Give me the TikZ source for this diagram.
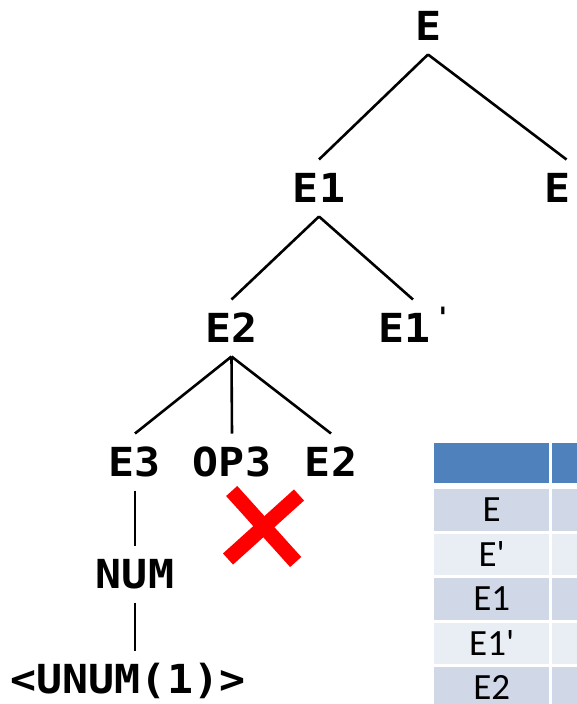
\documentclass[tikz,border=0pt]{standalone}
\usepackage{fontspec}
\usepackage{xcolor}
\newfontfamily\treefont[FakeStretch=1.08]{DejaVu Sans Mono}
\newfontfamily\tablefont{Carlito}
\newfontfamily\tickfont{DejaVu Sans}
\definecolor{hdblue}{HTML}{4F81BD}
\definecolor{rowdark}{HTML}{D0D8E8}
\definecolor{rowlight}{HTML}{E9EDF4}
\definecolor{xred}{HTML}{FF0000}
\newcommand\primetick{\raisebox{15pt}{\tickfont\fontsize{28}{28}\selectfont '}}

\begin{document}
\begin{tikzpicture}[
  x=1pt, y=-1pt,
  every node/.style={inner sep=0pt},
  lbl/.style={font={\treefont\bfseries\fontsize{40}{44}\selectfont}, text height=29pt, text depth=0pt, outer xsep=0pt, outer ysep=14pt},
  branch/.style={line width=2.6pt},
  cell/.style={fill=#1, minimum height=41.5pt, font={\tablefont\fontsize{37}{40}\selectfont}, text height=24pt, text depth=0pt},
  cross/.style={draw=xred, line width=15pt},
]
\clip (0,0) rectangle (577,704);

% symbol table
\node[cell=hdblue, minimum width=115.3pt, minimum height=39.4pt] (hdA) at (491.7,463) {};
\node[cell=hdblue, minimum width=60pt, minimum height=39.4pt] (hdB) at (582.3,463) {};
\foreach \lbl/\shade [count=\i] in {E/rowdark, E'/rowlight, E1/rowdark, E1'/rowlight, E2/rowdark} {
  \node[cell=\shade, minimum width=115.3pt] (lab\i) at (491.7, {509.75+(\i-1)*44.5}) {\lbl};
  \node[cell=\shade, minimum width=60pt] (val\i) at (582.3, {509.75+(\i-1)*44.5}) {};
}

% parse tree
\node[lbl] (e) at (428,26) {E};
\node[lbl] (e1) at (319,188) {E1};
\node[lbl] (eR) at (557.5,188) {E};
\node[lbl] (e2) at (231.5,328) {E2};
\node[lbl] (e1p) at (413,328) {E1\hspace{8pt}\primetick};
\node[lbl] (e3) at (135,462) {E3};
\node[lbl] (op3) at (232,462) {OP3};
\node[lbl] (e2b) at (331,462) {E2};
\node[lbl] (num) at (135,574) {NUM};
\node[lbl] (unum) at (128,679) {<UNUM(1)>};

\draw[branch] (e.south) -- (e1.north);
\draw[branch] (e.south) -- ([xshift=-4pt]eR.north east);
\draw[branch] (e1.south) -- (e2.north);
\draw[branch] (e1.south) -- (e1p.north);
\draw[branch] (e2.south) -- (e3.north);
\draw[branch] (e2.south) -- (op3.north);
\draw[branch] (e2.south) -- (e2b.north);
\draw[branch] (e3.south) -- (num.north);
\draw[branch] (num.south) -- (num.south |- unum.north);

% rejected branch
\draw[cross] (231.7,491) -- (295.7,562);
\draw[cross] (299,495) -- (228,559);
\end{tikzpicture}
\end{document}
